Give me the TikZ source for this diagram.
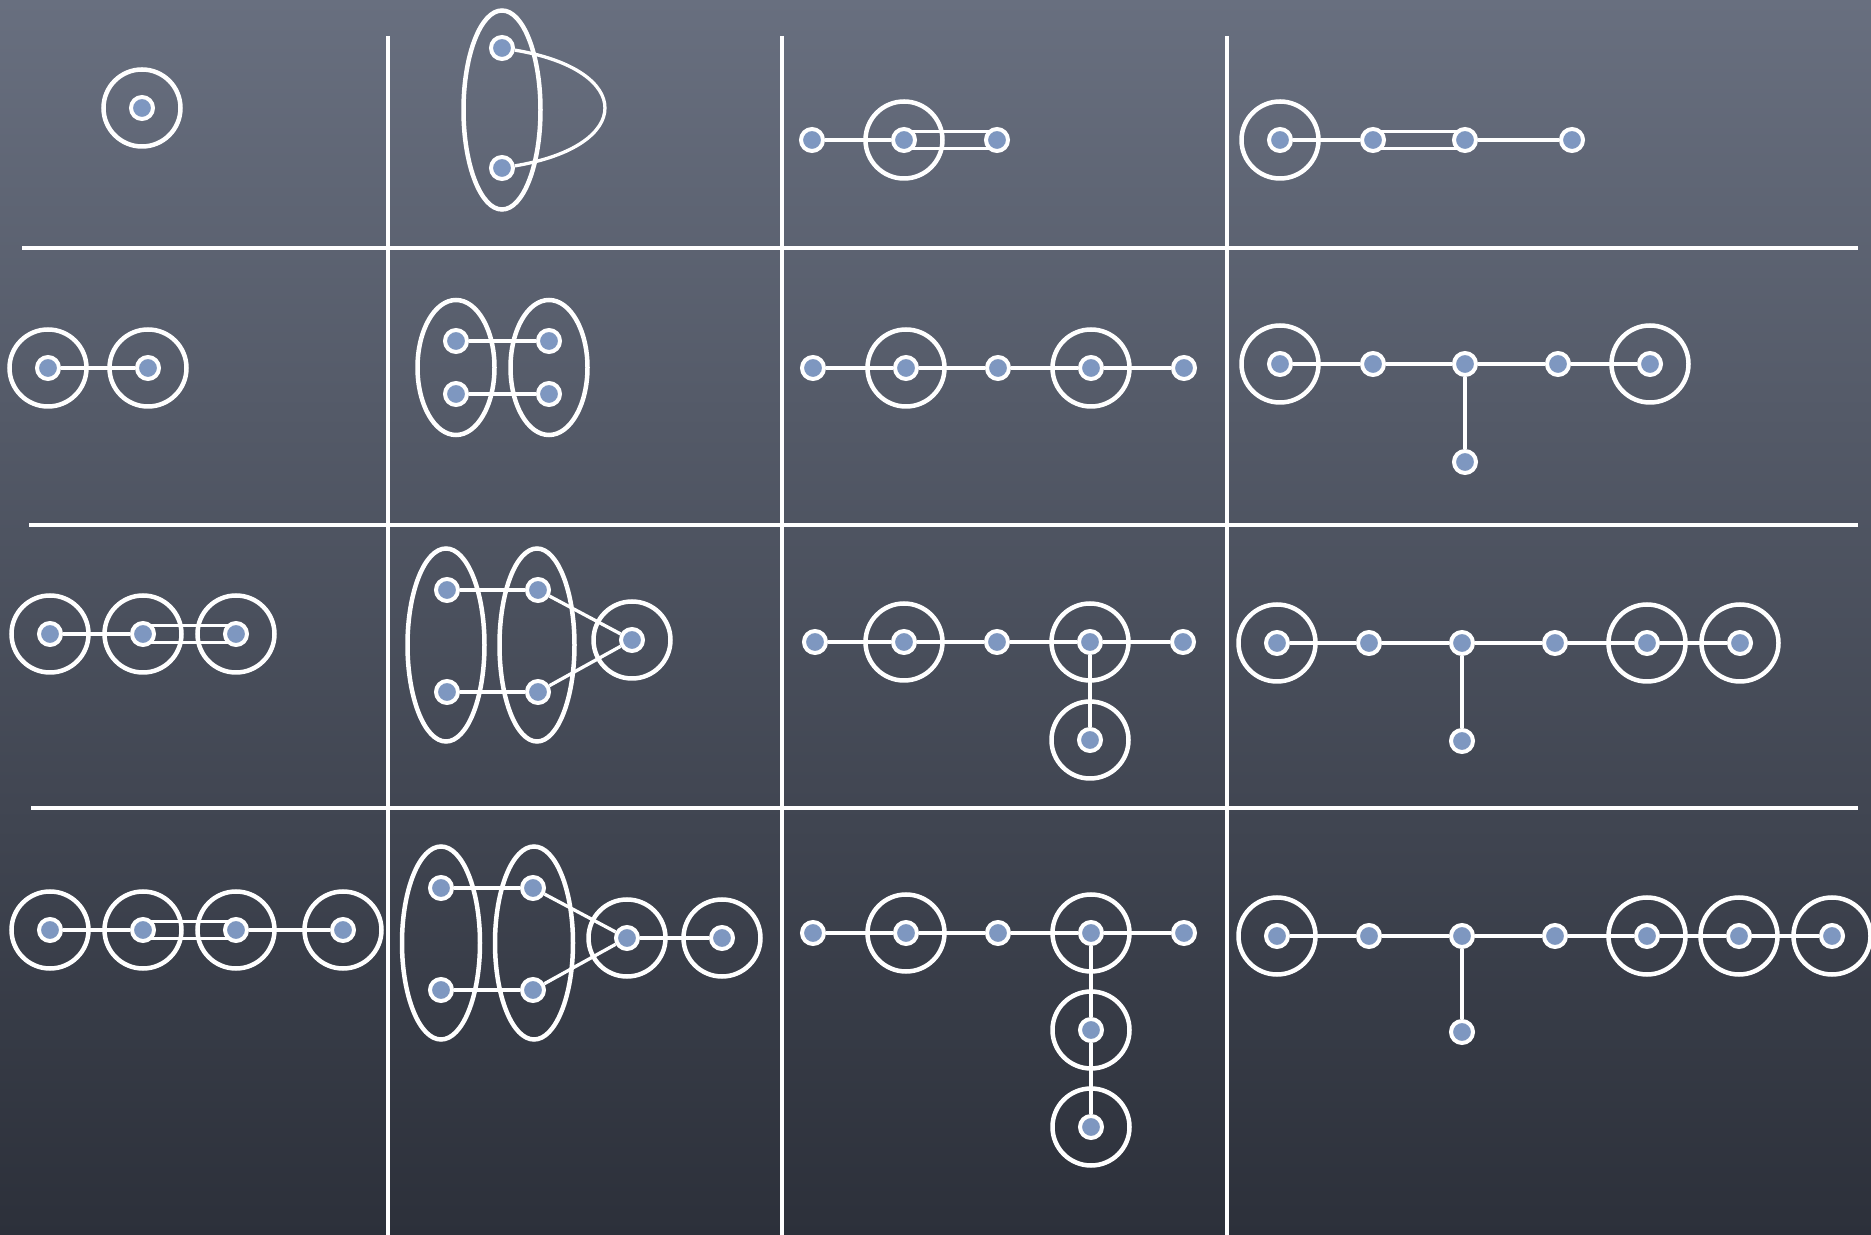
\documentclass[tikz,border=0pt]{standalone}
\usepackage{tikz}
\definecolor{slatetop}{RGB}{104,111,127}
\definecolor{slatebot}{RGB}{44,48,58}
\definecolor{dotblue}{RGB}{126,151,192}
\pgfdeclarelayer{bg}
\pgfsetlayers{bg,main}

\begin{document}
\begin{tikzpicture}[x=0.1mm,y=-0.1mm,
  vtx/.style={circle,fill=dotblue,draw=white,line width=0.4mm,minimum size=2.2mm,inner sep=0pt},
  ring/.style={draw=white,line width=0.45mm},
  edge/.style={draw=white,line width=0.33mm},
  rule/.style={draw=white,line width=0.32mm}]
  \useasboundingbox (0,0) rectangle (1871,1235);
  % vertices, cell by cell (row, column)
  \foreach \n/\x/\y in {c11a/142/108, c12a/502/48, c12b/502/168,
                        c13a/812/140, c13b/904/140, c13c/997/140,
                        c14a/1280/140, c14b/1373/140, c14c/1465/140, c14d/1572/140,
                        c21a/48/368, c21b/148/368,
                        c22a/456/341, c22b/549/341, c22c/456/394, c22d/549/394,
                        c23a/813/368, c23b/906/368, c23c/998/368, c23d/1091/368, c23e/1184/368,
                        c24a/1280/364, c24b/1373/364, c24c/1465/364, c24d/1558/364, c24e/1650/364, c24f/1465/462,
                        c31a/50/634, c31b/143/634, c31c/236/634,
                        c32a/447/590, c32b/538/590, c32c/447/692, c32d/538/692, c32e/632/640,
                        c33a/815/642, c33b/904/642, c33c/997/642, c33d/1090/642, c33e/1183/642, c33f/1090/740,
                        c34a/1277/643, c34b/1369/643, c34c/1462/643, c34d/1555/643, c34e/1647/643, c34f/1740/643, c34g/1462/741,
                        c41a/50/930, c41b/143/930, c41c/236/930, c41d/343/930,
                        c42a/441/888, c42b/533/888, c42c/441/990, c42d/533/990, c42e/627/938, c42f/722/938,
                        c43a/813/933, c43b/906/933, c43c/998/933, c43d/1091/933, c43e/1184/933, c43f/1091/1030, c43g/1091/1127,
                        c44a/1277/936, c44b/1369/936, c44c/1462/936, c44d/1555/936, c44e/1647/936, c44f/1739/936, c44g/1832/936, c44h/1462/1032}
    \node[vtx] (\n) at (\x,\y) {};

  \begin{pgfonlayer}{bg}
  \shade[top color=slatetop,bottom color=slatebot] (0,0) rectangle (1871,1235);
  % table rules
  \foreach \x in {388,782,1227} \draw[rule] (\x,36) -- (\x,1235);
  \foreach \y/\l in {248/22, 525/29, 808/31} \draw[rule] (\l,\y) -- (1858,\y);

  % rings and ellipses
  \foreach \n in {c11a,c13b,c14a,c21a,c21b,c23b,c23d,c24a,c24e,c31a,c31b,c31c,c32e,
                  c33b,c33d,c33f,c34a,c34e,c34f,c41a,c41b,c41c,c41d,c42e,c42f,
                  c43b,c43d,c43f,c43g,c44a,c44e,c44f,c44g}
    \draw[ring] (\n.center) circle (38.5);
  \draw[ring] (502,110) ellipse (38.5 and 99.5);
  \draw[ring] (456,367.5) ellipse (38.5 and 67.5);
  \draw[ring] (549,367.5) ellipse (38.5 and 67.5);
  \draw[ring] (446,645) ellipse (38.5 and 96.5);
  \draw[ring] (537,645) ellipse (37.5 and 96.5);
  \draw[ring] (441,943) ellipse (39 and 96.5);
  \draw[ring] (534,943) ellipse (39 and 96.5);

  % edges
  \foreach \a/\b in {c13a/c13b, c14a/c14b, c14c/c14d, c21a/c21b, c22a/c22b, c22c/c22d,
                     c23a/c23b, c23b/c23c, c23c/c23d, c23d/c23e,
                     c24a/c24b, c24b/c24c, c24c/c24d, c24d/c24e, c24c/c24f,
                     c31a/c31b, c32a/c32b, c32c/c32d, c32b/c32e, c32d/c32e,
                     c33a/c33b, c33b/c33c, c33c/c33d, c33d/c33e, c33d/c33f,
                     c34a/c34b, c34b/c34c, c34c/c34d, c34d/c34e, c34e/c34f, c34c/c34g,
                     c41a/c41b, c41c/c41d, c42a/c42b, c42c/c42d, c42b/c42e, c42d/c42e, c42e/c42f,
                     c43a/c43b, c43b/c43c, c43c/c43d, c43d/c43e, c43d/c43f, c43f/c43g,
                     c44a/c44b, c44b/c44c, c44c/c44d, c44d/c44e, c44e/c44f, c44f/c44g, c44c/c44h}
    \draw[edge] (\a) -- (\b);
  % doubled edges
  \foreach \a/\b in {c13b/c13c, c14b/c14c, c31b/c31c, c41b/c41c} {
    \draw[edge] ([yshift=0.88mm]\a.center) -- ([yshift=0.88mm]\b.center);
    \draw[edge] ([yshift=-0.88mm]\a.center) -- ([yshift=-0.88mm]\b.center);
  }
  \draw[edge] (c12a) .. controls (635,70) and (635,146) .. (c12b);
  \end{pgfonlayer}
\end{tikzpicture}
\end{document}
